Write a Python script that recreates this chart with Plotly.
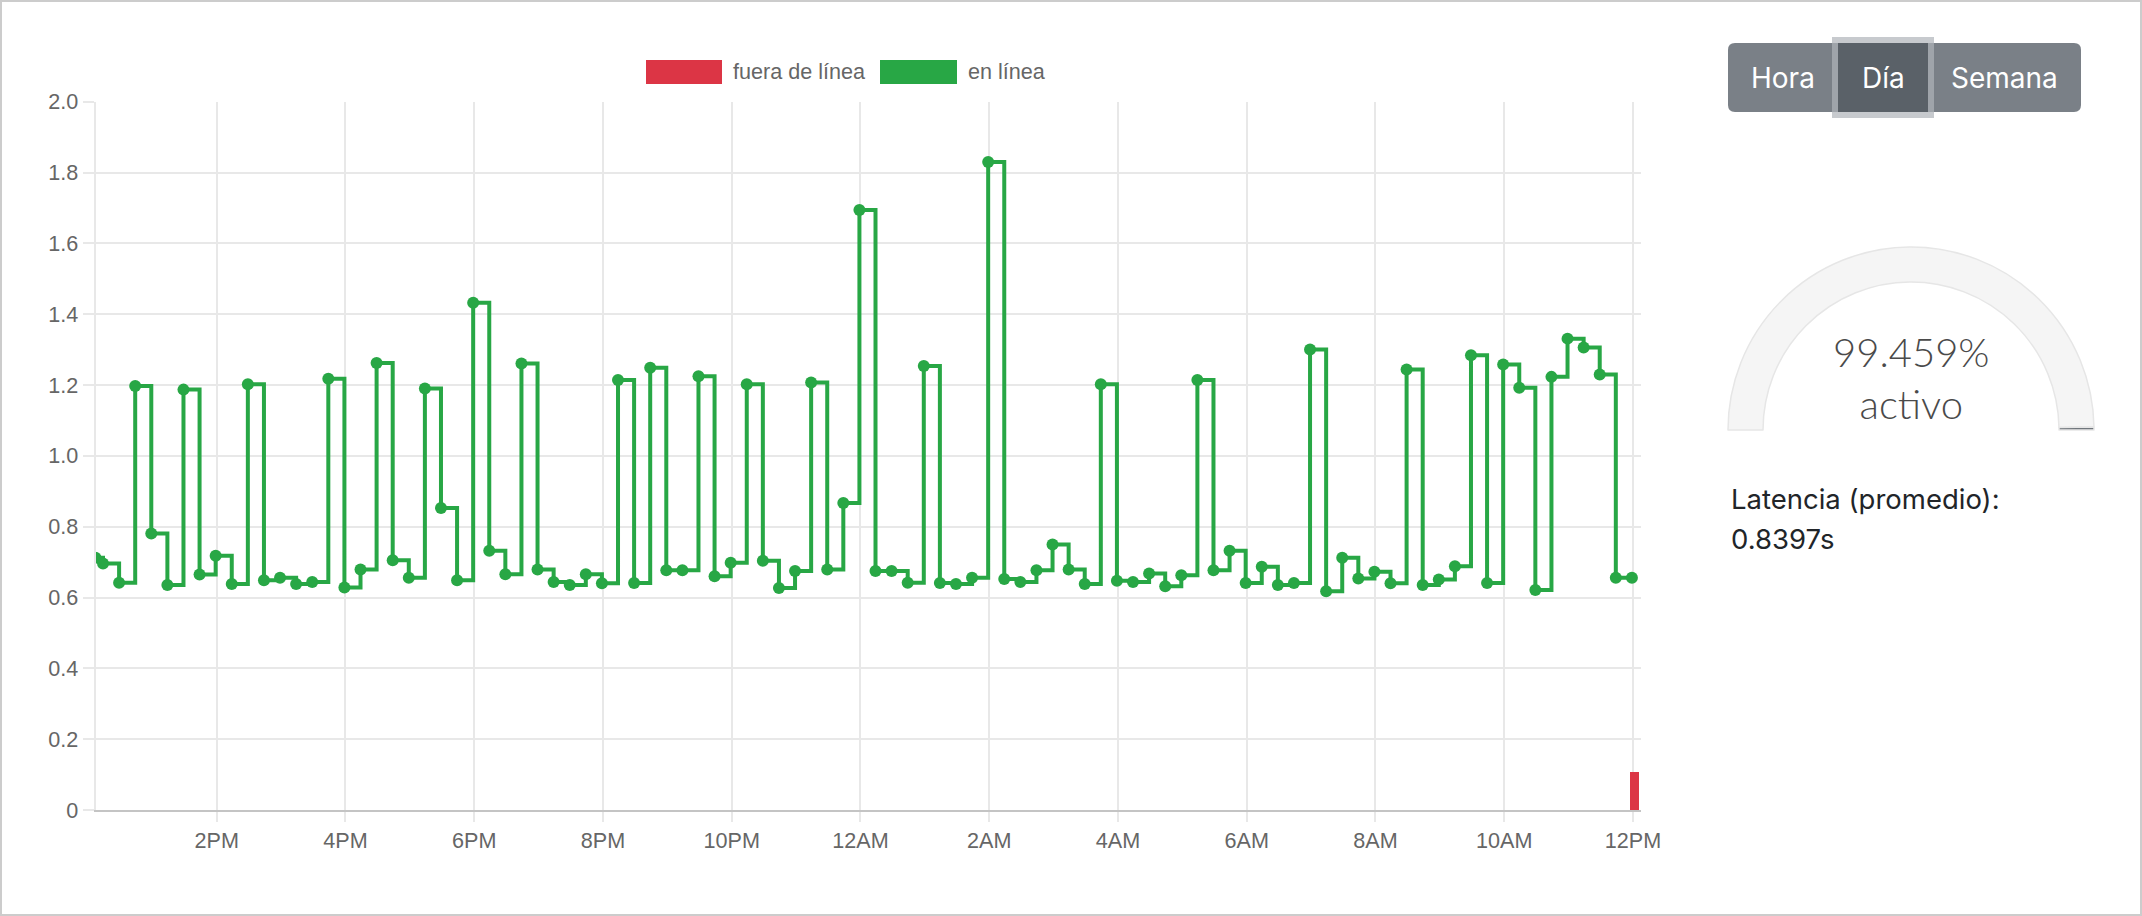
import plotly.graph_objects as go

W, H = 2142, 916

# ---------------- data ----------------
times = [
    "12:07", "12:14", "12:29", "12:44", "12:59",
    "13:14", "13:29", "13:44", "13:59",
    "14:14", "14:29", "14:44", "14:59",
    "15:14", "15:29", "15:44", "15:59",
    "16:14", "16:29", "16:44", "16:59",
    "17:14", "17:29", "17:44", "17:59",
    "18:14", "18:29", "18:44", "18:59",
    "19:14", "19:29", "19:44", "19:59",
    "20:14", "20:29", "20:44", "20:59",
    "21:14", "21:29", "21:44", "21:59",
    "22:14", "22:29", "22:44", "22:59",
    "23:14", "23:29", "23:44", "23:59",
    "00:14", "00:29", "00:44", "00:59",
    "01:14", "01:29", "01:44", "01:59",
    "02:14", "02:29", "02:44", "02:59",
    "03:14", "03:29", "03:44", "03:59",
    "04:14", "04:29", "04:44", "04:59",
    "05:14", "05:29", "05:44", "05:59",
    "06:14", "06:29", "06:44", "06:59",
    "07:14", "07:29", "07:44", "07:59",
    "08:14", "08:29", "08:44", "08:59",
    "09:14", "09:29", "09:44", "09:59",
    "10:14", "10:29", "10:44", "10:59",
    "11:14", "11:29", "11:44", "11:59",
]
latency = [
    0.712, 0.696, 0.642, 1.197, 0.781,
    0.635, 1.187, 0.665, 0.718,
    0.638, 1.202, 0.649, 0.656,
    0.638, 0.644, 1.218, 0.628,
    0.679, 1.262, 0.705, 0.656,
    1.190, 0.853, 0.649, 1.432,
    0.732, 0.666, 1.261, 0.679,
    0.644, 0.635, 0.666, 0.640,
    1.214, 0.641, 1.249, 0.677,
    0.677, 1.225, 0.660, 0.698,
    1.202, 0.704, 0.627, 0.675,
    1.207, 0.679, 0.867, 1.694,
    0.675, 0.675, 0.642, 1.254,
    0.641, 0.638, 0.656, 1.830,
    0.652, 0.644, 0.677, 0.750,
    0.679, 0.638, 1.202, 0.647,
    0.644, 0.668, 0.632, 0.663,
    1.214, 0.677, 0.732, 0.641,
    0.687, 0.635, 0.641, 1.300,
    0.618, 0.712, 0.654, 0.673,
    0.640, 1.244, 0.635, 0.651,
    0.688, 1.284, 0.641, 1.258,
    1.192, 0.621, 1.223, 1.331,
    1.306, 1.230, 0.656, 0.656,
]
offline_times = ["2024-05-02 12:01"]
offline_values = [0.107]

uptime_pct = 99.459
avg_latency_text = "0.8397s"

x_range = ["2024-05-01 12:07", "2024-05-02 12:07"]
x_tick_times = ["2024-05-01 14:00", "2024-05-01 16:00", "2024-05-01 18:00",
                "2024-05-01 20:00", "2024-05-01 22:00", "2024-05-02 00:00",
                "2024-05-02 02:00", "2024-05-02 04:00", "2024-05-02 06:00",
                "2024-05-02 08:00", "2024-05-02 10:00", "2024-05-02 12:00"]
x_tick_labels = ["2PM", "4PM", "6PM", "8PM", "10PM", "12AM",
                 "2AM", "4AM", "6AM", "8AM", "10AM", "12PM"]
y_tick_vals = [0, 0.2, 0.4, 0.6, 0.8, 1.0, 1.2, 1.4, 1.6, 1.8, 2.0]
y_tick_labels = ["0", "0.2", "0.4", "0.6", "0.8", "1.0", "1.2", "1.4", "1.6", "1.8", "2.0"]

series_names = ["fuera de línea", "en línea"]
buttons = ["Hora", "Día", "Semana"]

# ---------------- build timestamps ----------------
stamps = []
day = "2024-05-01"
prev_h = -1
for t in times:
    h = int(t[:2])
    if h < prev_h:
        day = "2024-05-02"
    prev_h = h
    stamps.append(f"{day} {t}")

GREEN = "#28a745"
RED = "#dc3545"
GRID = "#e8e8e8"
TICKFONT = dict(family="Liberation Sans, Arial, sans-serif", size=21.6, color="#666666")


def X(px):
    return px / W


def Y(py):
    return 1 - py / H


fig = go.Figure()

fig.add_trace(go.Bar(
    x=offline_times, y=offline_values, name=series_names[0],
    marker=dict(color=RED, line=dict(width=0)),
    width=8 * 60 * 1000, showlegend=False, hoverinfo="skip",
))
fig.add_trace(go.Scatter(
    x=stamps, y=latency, name=series_names[1], mode="lines+markers",
    line=dict(color=GREEN, width=4, shape="hv"),
    marker=dict(color=GREEN, size=12),
    showlegend=False,
))

# gauge
fig.add_trace(go.Pie(
    values=[uptime_pct, 100 - uptime_pct, 100],
    marker=dict(colors=["#f5f5f5", "#70767c", "rgba(0,0,0,0)"],
                line=dict(color=["#e6e6e6", "#e6e6e6", "rgba(0,0,0,0)"], width=[1.5, 1.5, 0])),
    hole=148 / 183, sort=False, direction="clockwise", rotation=270,
    textinfo="none", hoverinfo="skip", showlegend=False, automargin=False,
    domain=dict(x=[X(1911 - 183), X(1911 + 183)], y=[Y(430 + 183), Y(430 - 183)]),
))

fig.update_layout(
    width=W, height=H, autosize=False,
    margin=dict(l=0, r=0, t=0, b=0, pad=0, autoexpand=False),
    paper_bgcolor="white", plot_bgcolor="white",
    showlegend=False,
    bargap=0,
    xaxis=dict(
        domain=[X(95.5), X(1640.5)], automargin=False,
        type="date", range=x_range,
        tickvals=x_tick_times, ticktext=x_tick_labels,
        showgrid=True, gridcolor=GRID, gridwidth=1.8,
        ticks="outside", ticklen=10, tickcolor=GRID, tickwidth=1.8,
        showline=True, linecolor="#c4c4c4", linewidth=2,
        tickfont=TICKFONT, zeroline=False,
    ),
    yaxis=dict(
        domain=[Y(810), Y(101.7)], automargin=False,
        range=[0, 2], tickvals=y_tick_vals, ticktext=y_tick_labels,
        showgrid=True, gridcolor=GRID, gridwidth=1.8,
        ticks="outside", ticklen=11, tickcolor=GRID, tickwidth=1.8,
        showline=True, linecolor=GRID, linewidth=1.8,
        tickfont=TICKFONT, zeroline=False,
    ),
)

shapes = []
annotations = []


def rrect(x0, y0, x1, y1, r):
    pts = [
        ("M", (x0 + r, y0)), ("L", (x1 - r, y0)), ("Q", (x1, y0), (x1, y0 + r)),
        ("L", (x1, y1 - r)), ("Q", (x1, y1), (x1 - r, y1)), ("L", (x0 + r, y1)),
        ("Q", (x0, y1), (x0, y1 - r)), ("L", (x0, y0 + r)), ("Q", (x0, y0), (x0 + r, y0)),
    ]
    s = ""
    for item in pts:
        cmd = item[0]
        coords = " ".join(f"{X(p[0]):.6f},{Y(p[1]):.6f}" for p in item[1:])
        s += f"{cmd} {coords} "
    return s + "Z"


def rect(x0, y0, x1, y1, fill, line_color=None, lw=0):
    return dict(type="rect", xref="paper", yref="paper",
                x0=X(x0), x1=X(x1), y0=Y(y1), y1=Y(y0),
                fillcolor=fill, line=dict(color=line_color or fill, width=lw))


# legend (manual)
shapes.append(rect(646, 60, 722, 84, RED))
shapes.append(rect(880, 60, 957, 84, GREEN))
annotations.append(dict(text=series_names[0], x=X(731), y=Y(72), xref="paper", yref="paper",
                        xanchor="left", yanchor="middle", showarrow=False, font=TICKFONT))
annotations.append(dict(text=series_names[1], x=X(966), y=Y(72), xref="paper", yref="paper",
                        xanchor="left", yanchor="middle", showarrow=False, font=TICKFONT))

# button group
shapes.append(dict(type="path", xref="paper", yref="paper", path=rrect(1728, 43, 2081, 112, 7),
                   fillcolor="#7a8087", line=dict(width=0)))
shapes.append(rect(1832, 37, 1934, 118, "rgba(175,180,185,0.7)"))
shapes.append(rect(1838, 43, 1928, 112, "#5a6168"))
btn_font = dict(family="Inter, Liberation Sans, sans-serif", size=28, color="white")
for label, cx in zip(buttons, [1783, 1883, 2004.5]):
    annotations.append(dict(text=label, x=X(cx), y=Y(78), xref="paper", yref="paper",
                            xanchor="center", yanchor="middle", showarrow=False, font=btn_font))

# gauge text (one two-line label)
g_font = dict(family="Lato, Inter, Liberation Sans, sans-serif", size=40, color="#4a4a4a", weight=300)
annotations.append(dict(text=f"{uptime_pct}%<br>activo", x=X(1911), y=Y(378), xref="paper", yref="paper",
                        xanchor="center", yanchor="middle", showarrow=False, font=g_font, align="center"))

# latency text
l_font = dict(family="Inter, Liberation Sans, sans-serif", size=27.5, color="#212529")
annotations.append(dict(text="Latencia (promedio):", x=X(1729), y=Y(499), xref="paper", yref="paper",
                        xanchor="left", yanchor="middle", showarrow=False, font=l_font))
annotations.append(dict(text=avg_latency_text, x=X(1729), y=Y(539), xref="paper", yref="paper",
                        xanchor="left", yanchor="middle", showarrow=False, font=l_font))

# outer frame
shapes.append(dict(type="rect", xref="paper", yref="paper", x0=X(1), x1=X(W - 1), y0=Y(H - 1), y1=Y(1),
                   line=dict(color="#cccccc", width=2), fillcolor="rgba(0,0,0,0)"))

fig.update_layout(shapes=shapes, annotations=annotations)

fig.write_html("out.html", config={"displayModeBar": False},
               post_script="document.body.style.margin='0';document.body.style.overflow='hidden';")
